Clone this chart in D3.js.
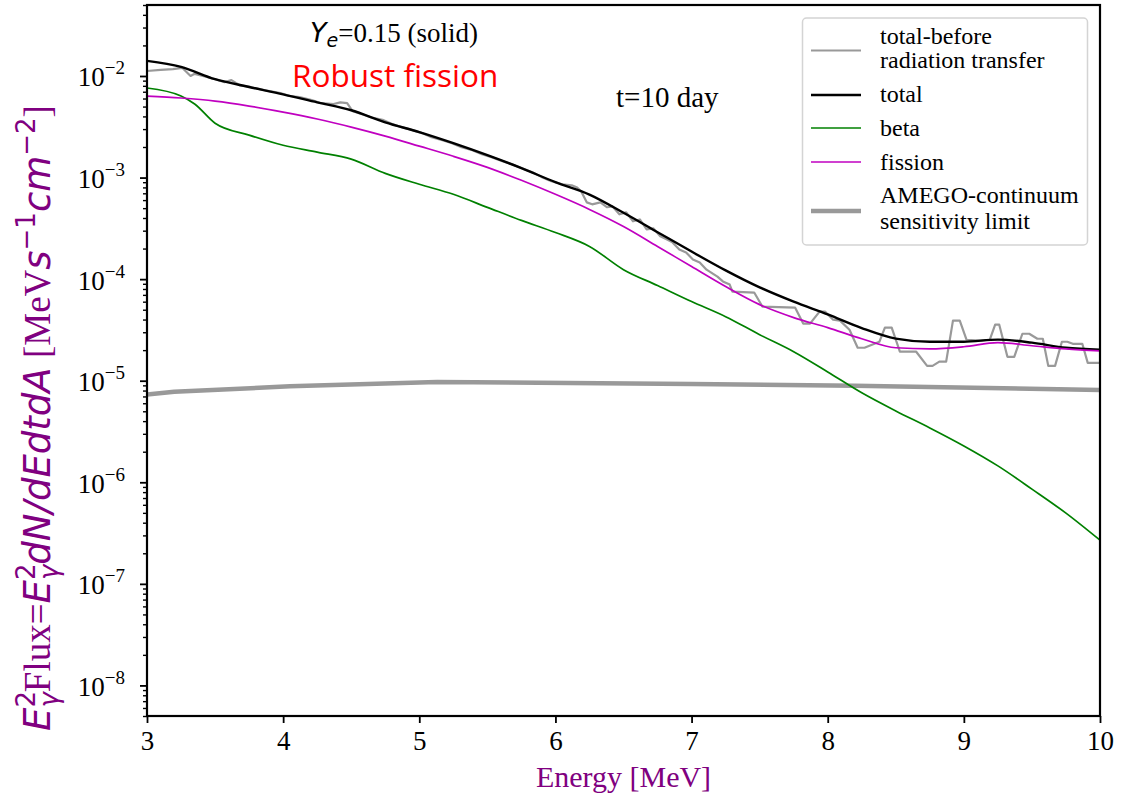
<!DOCTYPE html>
<html>
<head>
<meta charset="utf-8">
<script src="https://cdn.jsdelivr.net/npm/d3@7"></script>
<style>
  body { margin: 0; background: #fff; }
  svg { display: block; }
</style>
</head>
<body>
<svg id="chart" width="1137" height="800"></svg>
<script>
// ---- data: gamma-ray spectrum at t = 10 day (MeV s^-1 cm^-2) ----
const energy = [3.0, 3.25, 3.5, 3.75, 4.0, 4.25, 4.5, 4.75, 5.0, 5.25, 5.5, 5.75, 6.0, 6.25, 6.5,
                6.75, 7.0, 7.25, 7.5, 7.75, 8.0, 8.25, 8.5, 8.75, 9.0, 9.25, 9.5, 9.75, 10.0];
const totalFlux = [1.41e-2, 1.23e-2, 9.3e-3, 7.8e-3, 6.6e-3, 5.5e-3, 4.6e-3, 3.5e-3, 2.8e-3, 2.18e-3,
                   1.66e-3, 1.24e-3, 9.0e-4, 6.8e-4, 4.5e-4, 2.9e-4, 1.87e-4, 1.22e-4, 8.3e-5, 6.0e-5,
                   4.5e-5, 3.3e-5, 2.6e-5, 2.42e-5, 2.42e-5, 2.54e-5, 2.37e-5, 2.11e-5, 2.02e-5];
const fissionFlux = [6.35e-3, 6.07e-3, 5.66e-3, 5.06e-3, 4.41e-3, 3.77e-3, 3.14e-3, 2.56e-3, 2.04e-3, 1.62e-3,
                     1.26e-3, 9.4e-4, 6.84e-4, 4.86e-4, 3.30e-4, 2.10e-4, 1.33e-4, 8.45e-5, 5.61e-5, 4.18e-5,
                     3.33e-5, 2.59e-5, 2.11e-5, 2.06e-5, 2.16e-5, 2.37e-5, 2.21e-5, 2.06e-5, 1.97e-5];
const betaEnergy = [3.0, 3.25, 3.35, 3.5, 3.75, 4.0, 4.25, 4.5, 4.75, 5.0, 5.25, 5.5, 5.75, 6.0, 6.25, 6.5,
                    6.75, 7.0, 7.25, 7.5, 7.75, 8.0, 8.25, 8.5, 8.75, 9.0, 9.25, 9.5, 9.75, 10.0];
const betaFlux = [7.62e-3, 6.35e-3, 5.3e-3, 3.43e-3, 2.62e-3, 2.08e-3, 1.78e-3, 1.52e-3, 1.10e-3, 8.59e-4,
                  6.84e-4, 5.09e-4, 3.79e-4, 2.88e-4, 2.10e-4, 1.24e-4, 8.65e-5, 6.01e-5, 4.27e-5, 2.84e-5,
                  1.93e-5, 1.22e-5, 7.6e-6, 5.04e-6, 3.43e-6, 2.28e-6, 1.45e-6, 8.57e-7, 4.97e-7, 2.69e-7];
const beforeEnergy = [3.00, 3.10, 3.19, 3.26, 3.32, 3.35, 3.44, 3.50, 3.57, 3.62, 3.68, 3.76, 3.83, 3.90, 3.98,
                      4.05, 4.12, 4.21, 4.28, 4.37, 4.42, 4.47, 4.51, 4.58, 4.65, 4.73, 4.80, 4.87, 4.95, 5.02,
                      5.09, 5.17, 5.24, 5.31, 5.39, 5.46, 5.53, 5.61, 5.68, 5.75, 5.83, 5.90, 5.97, 6.05, 6.12,
                      6.16, 6.19, 6.23, 6.27, 6.33, 6.38, 6.42, 6.47, 6.52, 6.57, 6.62, 6.67, 6.72, 6.77, 6.82,
                      6.86, 6.91, 6.96, 7.01, 7.06, 7.11, 7.19, 7.23, 7.28, 7.30, 7.46, 7.52, 7.76, 7.82, 7.87,
                      7.94, 7.98, 8.04, 8.09, 8.16, 8.22, 8.27, 8.38, 8.42, 8.47, 8.53, 8.65, 8.73, 8.77, 8.82,
                      8.87, 8.92, 8.97, 9.02, 9.12, 9.19, 9.23, 9.26, 9.32, 9.37, 9.43, 9.48, 9.54, 9.58, 9.62,
                      9.67, 9.72, 9.76, 9.80, 9.87, 9.91, 10.00];
const beforeFlux = [1.12e-2, 1.15e-2, 1.17e-2, 1.20e-2, 1.00e-2, 1.05e-2, 9.8e-3, 9.3e-3, 8.7e-3, 9.1e-3,
                    8.1e-3, 7.8e-3, 7.4e-3, 7.1e-3, 6.8e-3, 6.35e-3, 6.2e-3, 5.8e-3, 5.4e-3, 5.3e-3,
                    5.5e-3, 5.4e-3, 4.5e-3, 4.2e-3, 3.9e-3, 3.7e-3, 3.36e-3, 3.14e-3, 2.93e-3, 2.74e-3,
                    2.50e-3, 2.33e-3, 2.18e-3, 1.99e-3, 1.86e-3, 1.70e-3, 1.59e-3, 1.45e-3, 1.35e-3, 1.24e-3,
                    1.13e-3, 1.01e-3, 9.2e-4, 8.6e-4, 8.4e-4, 8.0e-4, 7.3e-4, 5.7e-4, 5.45e-4, 5.7e-4,
                    5.1e-4, 5.2e-4, 4.35e-4, 4.54e-4, 3.71e-4, 3.87e-4, 3.09e-4, 3.16e-4, 2.64e-4, 2.46e-4,
                    2.30e-4, 1.96e-4, 1.83e-4, 1.56e-4, 1.46e-4, 1.24e-4, 1.06e-4, 9.5e-5, 8.85e-5, 7.55e-5,
                    7.38e-5, 5.37e-5, 5.25e-5, 3.65e-5, 3.65e-5, 4.79e-5, 4.79e-5, 3.99e-5, 3.90e-5, 3.18e-5,
                    2.11e-5, 2.11e-5, 2.42e-5, 3.33e-5, 3.33e-5, 1.93e-5, 1.93e-5, 1.40e-5, 1.40e-5, 1.54e-5,
                    1.54e-5, 3.90e-5, 3.90e-5, 2.53e-5, 2.48e-5, 2.53e-5, 3.56e-5, 3.56e-5, 1.72e-5, 1.72e-5,
                    2.90e-5, 2.90e-5, 2.59e-5, 2.59e-5, 1.40e-5, 1.40e-5, 2.42e-5, 2.42e-5, 2.31e-5, 2.31e-5,
                    1.50e-5, 1.50e-5];
const amegoEnergy = [3.0, 3.2, 4.05, 5.13, 7.0, 8.2, 10.0];
const amegoFlux = [7.3e-6, 7.8e-6, 8.8e-6, 9.7e-6, 9.3e-6, 8.9e-6, 8.1e-6];

const xTicks = [3, 4, 5, 6, 7, 8, 9, 10];
const yExponents = [-8, -7, -6, -5, -4, -3, -2];
const legendLabels = [["total-before", "radiation transfer"], ["total"], ["beta"], ["fission"],
                      ["AMEGO-continuum", "sensitivity limit"]];

// ---- layout ----
const SERIF = "'Liberation Serif', 'Times New Roman', serif";
const MATH = "'DejaVu Sans', sans-serif";
const plot = { left: 147, right: 1100, top: 5, bottom: 716 };
const purple = "#800080";

const svg = d3.select("#chart");
const x = d3.scaleLinear().domain([3, 10]).range([plot.left, plot.right]);
const y = d3.scaleLog().domain([5e-9, 5e-2]).range([plot.bottom, plot.top]);

svg.append("defs").append("clipPath").attr("id", "plotClip")
  .append("rect")
  .attr("x", plot.left).attr("y", plot.top)
  .attr("width", plot.right - plot.left).attr("height", plot.bottom - plot.top);

// ---- axes ----
const xAxis = svg.append("g")
  .attr("transform", `translate(0,${plot.bottom})`)
  .call(d3.axisBottom(x).tickValues(xTicks).tickSize(7).tickPadding(8).tickFormat(d3.format("d")));
xAxis.select(".domain").remove();
xAxis.selectAll(".tick line").attr("stroke", "#000").attr("stroke-width", 1.8);
xAxis.selectAll(".tick text").attr("font-family", SERIF).attr("font-size", 27).attr("fill", "#000");

const majorY = yExponents.map(e => Math.pow(10, e));
const minorY = [];
for (let e = -9; e <= -2; e++) {
  for (let k = 2; k <= 9; k++) {
    const v = k * Math.pow(10, e);
    if (v >= 5e-9 && v <= 5e-2) minorY.push(v);
  }
}
const yMinor = svg.append("g")
  .attr("transform", `translate(${plot.left},0)`)
  .call(d3.axisLeft(y).tickValues(minorY).tickSize(4).tickFormat(""));
yMinor.select(".domain").remove();
yMinor.selectAll(".tick line").attr("stroke", "#000").attr("stroke-width", 1.4);

const yMajor = svg.append("g")
  .attr("transform", `translate(${plot.left},0)`)
  .call(d3.axisLeft(y).tickValues(majorY).tickSize(7).tickFormat(""));
yMajor.select(".domain").remove();
yMajor.selectAll(".tick line").attr("stroke", "#000").attr("stroke-width", 1.8);
yMajor.selectAll(".tick").each(function (d) {
  const t = d3.select(this).append("text")
    .attr("x", -22).attr("y", 10)
    .attr("text-anchor", "end")
    .attr("font-family", SERIF).attr("font-size", 27).attr("fill", "#000");
  t.append("tspan").text("10");
  t.append("tspan").attr("font-size", 19).attr("dy", -12)
    .text("\u2212" + Math.abs(Math.round(Math.log10(d))));
});

// ---- series ----
const line = d3.line().x(d => x(d[0])).y(d => y(d[1]));
const smooth = d3.line().x(d => x(d[0])).y(d => y(d[1])).curve(d3.curveMonotoneX);
const zipPairs = (xs, ys) => xs.map((v, i) => [v, ys[i]]);

const series = svg.append("g").attr("clip-path", "url(#plotClip)").attr("fill", "none")
  .attr("stroke-linejoin", "round");
series.append("path").datum(zipPairs(amegoEnergy, amegoFlux))
  .attr("d", line).attr("stroke", "#999999").attr("stroke-width", 4.5);
series.append("path").datum(zipPairs(beforeEnergy, beforeFlux))
  .attr("d", line).attr("stroke", "#999999").attr("stroke-width", 2.2);
series.append("path").datum(zipPairs(energy, totalFlux))
  .attr("d", smooth).attr("stroke", "#000000").attr("stroke-width", 2.4);
series.append("path").datum(zipPairs(betaEnergy, betaFlux))
  .attr("d", smooth).attr("stroke", "#008000").attr("stroke-width", 1.7);
series.append("path").datum(zipPairs(energy, fissionFlux))
  .attr("d", smooth).attr("stroke", "#c000c0").attr("stroke-width", 1.7);

// frame
svg.append("rect")
  .attr("x", plot.left).attr("y", plot.top)
  .attr("width", plot.right - plot.left).attr("height", plot.bottom - plot.top)
  .attr("fill", "none").attr("stroke", "#000").attr("stroke-width", 2.2);

// ---- annotations ----
const ye = svg.append("text").attr("x", 310).attr("y", 42).attr("fill", "#000");
ye.append("tspan").attr("font-family", MATH).attr("font-style", "italic").attr("font-size", 27).text("Y");
ye.append("tspan").attr("font-family", MATH).attr("font-style", "italic").attr("font-size", 19)
  .attr("dy", 5).text("e");
ye.append("tspan").attr("font-family", SERIF).attr("font-size", 27).attr("dy", -5).text("=0.15 (solid)");

svg.append("text").attr("x", 292).attr("y", 87)
  .attr("font-family", "'Open Sans', sans-serif").attr("font-size", 31.5).attr("fill", "#ff0000")
  .text("Robust fission");

svg.append("text").attr("x", 616).attr("y", 107)
  .attr("font-family", SERIF).attr("font-size", 29).attr("fill", "#000")
  .text("t=10 day");

// ---- axis labels ----
svg.append("text").attr("x", (plot.left + plot.right) / 2).attr("y", 787)
  .attr("text-anchor", "middle")
  .attr("font-family", SERIF).attr("font-size", 30).attr("fill", purple)
  .text("Energy [MeV]");

const ySize = 37, subSize = 26;
const yl = svg.append("text")
  .attr("transform", "translate(50,418) rotate(-90)")
  .attr("text-anchor", "middle").attr("fill", purple);
function seg(txt, opts) {
  const s = yl.append("tspan").text(txt)
    .attr("font-family", opts.serif ? SERIF : MATH)
    .attr("font-style", opts.italic ? "italic" : "normal")
    .attr("font-size", opts.size || ySize);
  if (opts.dx) s.attr("dx", opts.dx);
  if (opts.dy) s.attr("dy", opts.dy);
  return s;
}
function energySquared() {
  seg("E", { italic: true });
  seg("2", { size: subSize, dy: -15 });
  seg("\u03b3", { italic: true, size: subSize, dx: -0.636 * subSize, dy: 23 });
}
energySquared();
seg("Flux=", { serif: true, dy: -8 });
energySquared();
seg("dN/dEdtdA", { italic: true, dy: -8 });
seg(" [MeV", { serif: true });
seg("s", { italic: true });
seg("\u22121", { size: subSize, dy: -15 });
seg("cm", { italic: true, dy: 15 });
seg("\u22122", { size: subSize, dy: -15 });
seg("]", { serif: true, dy: 15 });

// ---- legend ----
const legend = svg.append("g");
legend.append("rect")
  .attr("x", 802.5).attr("y", 18).attr("width", 285).attr("height", 227).attr("rx", 4)
  .attr("fill", "#fff").attr("fill-opacity", 0.8)
  .attr("stroke", "#d4d4d4").attr("stroke-width", 1.5);
const legendStyles = [
  { color: "#999999", width: 2.2, lineY: 50.5, textY: [44, 68] },
  { color: "#000000", width: 2.4, lineY: 95, textY: [102] },
  { color: "#008000", width: 1.7, lineY: 128, textY: [136] },
  { color: "#c000c0", width: 1.7, lineY: 162, textY: [170] },
  { color: "#999999", width: 4.5, lineY: 211, textY: [203, 229] }
];
legendLabels.forEach((lines, i) => {
  const st = legendStyles[i];
  legend.append("line")
    .attr("x1", 811).attr("x2", 861).attr("y1", st.lineY).attr("y2", st.lineY)
    .attr("stroke", st.color).attr("stroke-width", st.width);
  lines.forEach((txt, j) => {
    legend.append("text").attr("x", 880).attr("y", st.textY[j])
      .attr("font-family", SERIF).attr("font-size", 24).attr("fill", "#000")
      .text(txt);
  });
});
</script>
</body>
</html>
